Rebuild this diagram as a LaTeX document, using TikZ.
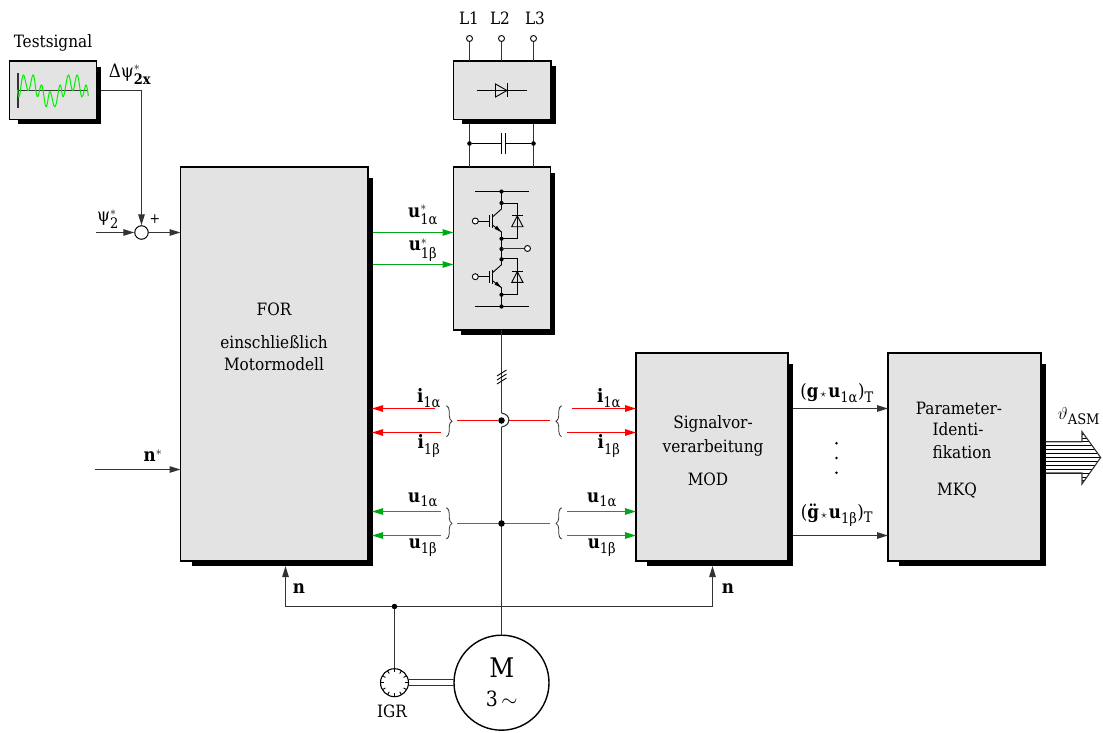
\documentclass[tikz,border=0pt]{standalone}
\usepackage{fontspec}
\usepackage{amsmath}
\setmainfont{DejaVu Serif Condensed}
\usetikzlibrary{arrows.meta,decorations.pathreplacing,calc}
\definecolor{boxgray}{HTML}{E3E3E3}
\definecolor{sigred}{HTML}{FF0000}
\definecolor{siggreen}{HTML}{00A818}
\definecolor{wavegreen}{HTML}{00F000}
\definecolor{wire}{HTML}{333333}
\newcommand\subs[1]{\text{\fontsize{14.5}{15}\selectfont #1}}
\newcommand\sgl[3]{$\textbf{#1}#2_{\subs{#3}}$}
\newcommand\blockb[7]{%
  \fill[black] (#2+#6,#3+#7) rectangle (#4+4.5,#5+5);
  \node[blockbox,minimum width={(#4-#2)*1pt},minimum height={(#5-#3)*1pt}] (#1) at ({(#2+#4)/2},{(#3+#5)/2}) {};
}
\tikzset{
  x=1pt,y=-1pt,
  blockbox/.style={draw=black,line width=1.2pt,fill=boxgray,inner sep=0,outer sep=0},
  wr/.style={draw=wire,line width=1.1pt},
  thin wr/.style={draw=black,line width=0.9pt},
  arr/.style={wr,-{Triangle[length=11pt,width=6.5pt]}},
  redarr/.style={draw=sigred,line width=1.1pt,-{Triangle[length=11pt,width=6.5pt]}},
  greenarr/.style={draw=siggreen,line width=1.1pt,-{Triangle[length=11pt,width=6.5pt]}},
  redl/.style={draw=sigred,line width=1.1pt},
  greenl/.style={draw=siggreen,line width=1.1pt},
  brc/.style={draw=wire,line width=0.8pt,decorate,decoration={brace,amplitude=5.5pt,aspect=0.5}},
  jdot/.style={circle,fill=black,inner sep=0,minimum size=#1},
  jdot/.default=4.6pt,
  term/.style={circle,draw=black,fill=white,line width=0.9pt,inner sep=0,minimum size=6pt},
  txt/.style={inner sep=0,font=\fontsize{17}{18}\selectfont},
  lab/.style={inner sep=0,font=\fontsize{18.5}{19}\selectfont},
}
\begin{document}
\begin{tikzpicture}
\useasboundingbox (0,0) rectangle (1103,733);
% blocks
\blockb{test}{9.5}{61}{96.5}{119.5}{8}{6}
\blockb{rect}{453.5}{61}{551}{119.5}{8}{5}
\blockb{inv}{453.5}{167}{550.5}{330}{7}{6}
\blockb{for}{180.5}{167}{368}{561}{11}{11}
\blockb{mod}{636}{353}{788}{561}{11}{11}
\blockb{mkq}{888}{353}{1041}{561}{11}{11}
% block texts
\node[txt] (ttest) at (53,43) {Testsignal};
\node[txt] (t1) at (274,309) {FOR};
\node[txt] (t2) at (274,342) {einschließlich};
\node[txt] (t3) at (274,364) {Motormodell};
\node[txt] (t4) at (713,424) {Signalvor-};
\node[txt] (t5) at (713,448) {verarbeitung};
\node[txt] (t6) at (708,479) {MOD};
\node[txt] (t7) at (959,408) {Parameter-};
\node[txt] (t8) at (958,429) {Identi-};
\node[txt] (t9) at (962,452) {fikation};
\node[txt] (t10) at (957,491) {MKQ};
\node[txt] (l1) at (469,18) {L1};
\node[txt] (l2) at (500,18) {L2};
\node[txt] (l3) at (535,18) {L3};
% test signal graphic
\draw[wr] (18,73) -- (18,108);
\draw[wr] (18,90.5) -- (88,90.5);
\draw[wavegreen,line width=1pt] plot[smooth,tension=0.65] coordinates {(17.5,90) (19.3,96.7) (23.3,75) (28.3,90.7) (33.3,75) (37.3,96.7) (41.7,85) (46,106.7) (50,91.7) (55,106.7) (60,85) (63.3,96.7) (68.3,75) (72.7,90.7) (77.3,75) (81.7,96.7) (86,85) (88.3,96)};
% summing point and reference inputs
\node[circle,draw=black,fill=white,line width=1pt,inner sep=0,minimum size=13.5pt] (sum) at (141.5,232.5) {};
\coordinate (testout) at (100.5,90.5);
\coordinate (corner) at (141.5,90.5);
\coordinate (psiin) at (96,232.5);
\coordinate (nin) at (95,469.5);
\draw[wr] (testout) -- (corner);
\draw[arr] (corner) -- (sum.north);
\draw[arr] (psiin) -- (sum.west);
\draw[arr] (sum.east) -- (for.west |- sum);
\draw[arr] (nin) -- (for.west |- nin);
\node[lab] (dpsi) at (130,74) {Δψ$^{*}_{\textbf{\fontsize{14.5}{15}\selectfont 2x}}$};
\node[lab] (psi) at (108,219) {ψ$^{*}_{\subs{2}}$};
\node[inner sep=0,font=\fontsize{14}{14}\selectfont] (plus) at (155,219.5) {+};
\node[lab] (nstar) at (153,456) {$\textbf{n}^{*}$};
% mains
\node[term] (c1) at (469.5,38.5) {};
\node[term] (c2) at (501.5,38.5) {};
\node[term] (c3) at (533.5,38.5) {};
\draw[wr] (c1) -- (c1 |- rect.north);
\draw[wr] (c2) -- (c2 |- rect.north);
\draw[wr] (c3) -- (c3 |- rect.north);
% rectifier symbol
\coordinate (da) at (477,90.5);
\coordinate (db) at (527,90.5);
\draw[thin wr] (da) -- (db);
\draw[thin wr] (495.5,84) -- (507,90.5) -- (495.5,97) -- cycle;
\draw[thin wr] (507.5,83.5) -- (507.5,97);
% DC link
\coordinate (dcl) at (469.5,124);
\coordinate (dcr) at (533.5,124);
\draw[wr] (dcl) -- (dcl |- inv.north);
\draw[wr] (dcr) -- (dcr |- inv.north);
\node[jdot] (dl) at (469.5,143.5) {};
\node[jdot] (dr) at (533.5,143.5) {};
\draw[thin wr] (dl) -- (501,143.5);
\draw[thin wr] (505.5,143.5) -- (dr);
\draw[thin wr] (501,133) -- (501,154);
\draw[thin wr] (505.5,133) -- (505.5,154);
% inverter symbol
\draw[thin wr] (475,191.5) -- (529,191.5);
\draw[thin wr] (475,306.5) -- (529,306.5);
\draw[thin wr] (501.5,191.5) -- (501.5,203);
\draw[thin wr] (501.5,238.7) -- (501.5,259.3);
\draw[thin wr] (501.5,294.7) -- (501.5,306.5);
\foreach \yy in {191.5,203,238.7,249,259.3,294.7,306.5} \node[jdot=4.2pt] at (501.5,\yy) {};
\node[term] (out) at (527.5,248.5) {};
\draw[wr] (501.5,248.5) -- (out);
\foreach \dy in {0,55.7}{
  \begin{scope}[yshift=-\dy pt]
  \draw[thin wr] (501.5,203) -- (501.5,209) -- (492.5,217);
  \draw[thin wr] (501.5,238.7) -- (501.5,232) -- (492.5,225);
  \fill[black] (501,231.8) -- (494.5,228.8) -- (497,225.8) -- cycle;
  \draw[thin wr] (492.5,214) -- (492.5,228);
  \draw[thin wr] (489.5,215) -- (489.5,227);
  \node[term] (g\dy) at (475.3,221) {};
  \draw[thin wr] (478,221) -- (490,221);
  \draw[thin wr] (501.5,203) -- (517.5,203) -- (517.5,238.7) -- (501.5,238.7);
  \draw[thin wr] (511.7,215.7) -- (523,215.7);
  \draw[thin wr] (517.3,215.9) -- (523,226.7) -- (511.7,226.7) -- cycle;
  \end{scope}
}
% control signals to inverter
\coordinate (ua) at (372.5,232.5);
\coordinate (ub) at (372.5,264.5);
\draw[greenarr] (ua) -- (inv.west |- ua);
\draw[greenarr] (ub) -- (inv.west |- ub);
\node[lab] (lua) at (423,215) {\sgl{u}{^{*}}{1α}};
\node[lab] (lub) at (423,250) {\sgl{u}{^{*}}{1β}};
% main vertical line and motor
\node[circle,draw=black,fill=white,line width=1.4pt,inner sep=0,minimum size=95pt] (motor) at (501.5,682.7) {};
\node[inner sep=0,font=\fontsize{27}{27}\selectfont] (mm) at (501.7,668) {M};
\node[inner sep=0,font=\fontsize{21}{21}\selectfont] (m3) at (501.7,699) {3\,$\sim$};
\coordinate (jt) at (501.5,413);
\coordinate (jb) at (501.5,427);
\draw[wr] (inv.south -| jt) -- (jt);
\draw[wr] (jb) -- (motor.north);
\draw[wr] (jt) .. controls (511.3,414.5) and (511.3,425.5) .. (jb);
\foreach \yy in {373,377,381} \draw[thin wr] (497,\yy+3) -- (506.5,\yy-3);
% current signals
\coordinate (rl) at (457,420.5);
\coordinate (rr1) at (509,420.5);
\coordinate (rr) at (550,420.5);
\coordinate (gl) at (457,523.5);
\coordinate (gr) at (550,523.5);
\node[jdot=6.5pt] (jr) at (501.5,420.5) {};
\draw[redl] (rl) -- (jr);
\draw[redl] (rr1) -- (rr);
\draw[greenl] (gl) -- (gr);
\node[jdot=6.5pt] (jg) at (501.5,523.5) {};
\coordinate (r1l) at (435,408.5);
\coordinate (r2l) at (441,432.5);
\coordinate (r1r) at (572,408.5);
\coordinate (r2r) at (567,432.5);
\coordinate (g1l) at (441,511.5);
\coordinate (g2l) at (441,535.5);
\coordinate (g1r) at (567,511.5);
\coordinate (g2r) at (567,535.5);
\coordinate (shf1) at (372,408.5);
\coordinate (shf2) at (372,432.5);
\coordinate (shf3) at (372,511.5);
\coordinate (shf4) at (372,535.5);
\draw[redarr] (r1l) -- (shf1);
\draw[redarr] (r2l) -- (shf2);
\draw[greenarr] (g1l) -- (shf3);
\draw[greenarr] (g2l) -- (shf4);
\draw[redarr] (r1r) -- (mod.west |- r1r);
\draw[redarr] (r2r) -- (mod.west |- r2r);
\draw[greenarr] (g1r) -- (mod.west |- g1r);
\draw[greenarr] (g2r) -- (mod.west |- g2r);
\draw[brc] (446.5,405.7) -- (446.5,436.7);
\draw[brc] (446.5,507.7) -- (446.5,539);
\draw[brc] (561.5,436.7) -- (561.5,405.7);
\draw[brc] (561.5,539) -- (561.5,507.7);
\node[lab] (a1) at (429,398) {\sgl{i}{}{1α}};
\node[lab] (a2) at (429,446) {\sgl{i}{}{1β}};
\node[lab] (a3) at (423,500) {\sgl{u}{}{1α}};
\node[lab] (a4) at (423,548) {\sgl{u}{}{1β}};
\node[lab] (a5) at (609,398) {\sgl{i}{}{1α}};
\node[lab] (a6) at (609,446) {\sgl{i}{}{1β}};
\node[lab] (a7) at (602,500) {\sgl{u}{}{1α}};
\node[lab] (a8) at (602,548) {\sgl{u}{}{1β}};
% speed feedback
\coordinate (nl) at (285.5,606.5);
\coordinate (nr) at (712.5,606.5);
\coordinate (fshadow) at (285.5,566);
\coordinate (mshadow) at (712.5,566);
\draw[wr] (nl) -- (nr);
\draw[arr] (nl) -- (fshadow);
\draw[arr] (nr) -- (mshadow);
\node[jdot=5.5pt] (dn) at (394.5,606.5) {};
\node[lab] (n1) at (299,589) {\textbf{n}};
\node[lab] (n2) at (728,589) {\textbf{n}};
\node[circle,draw=black,fill=white,line width=1.1pt,inner sep=0,minimum size=28pt] (igr) at (394.5,682.7) {};
\foreach \aa in {0,30,...,330} \draw[thin wr] ($(igr.center)+(\aa:14)$) -- ($(igr.center)+(\aa:10.5)$);
\draw[wr] (dn) -- (igr.north);
\coordinate (s1a) at (408.5,679.5);
\coordinate (s2a) at (408.5,685.5);
\draw[wr] (s1a) -- (s1a -| motor.west);
\draw[wr] (s2a) -- (s2a -| motor.west);
\node[txt] (igrt) at (392,711) {IGR};
% outputs of MOD
\coordinate (mo1) at (793,408.5);
\coordinate (mo2) at (793,535.5);
\draw[arr] (mo1) -- (mkq.west |- mo1);
\draw[arr] (mo2) -- (mkq.west |- mo2);
\node[lab] (o1) at (837,393) {(\textbf{g}$\scriptstyle\,\star\,$\textbf{u}$_{\subs{1α}}$)$_{\subs{T}}$};
\node[lab] (o2) at (837,515) {(\textbf{\"g}$\scriptstyle\,\star\,$\textbf{u}$_{\subs{1β}}$)$_{\subs{T}}$};
\node[jdot=2.8pt] (v1) at (836.5,443.3) {};
\node[jdot=2.8pt] (v2) at (836.5,458) {};
\node[jdot=2.8pt] (v3) at (836.5,472.7) {};
% result arrow
\foreach \k in {-4,...,4} \draw[thin wr] (1045.5,457.5+\k*3.9) -- ({1100.7-18.7*abs(\k*3.9)/26},457.5+\k*3.9);
\foreach \k in {-6,-5,5,6} \draw[thin wr] (1082,457.5+\k*3.9) -- ({1100.7-18.7*abs(\k*3.9)/26},457.5+\k*3.9);
\draw[wr,line join=miter] (1045.5,441.7) -- (1082,441.7) -- (1082,431.7) -- (1100.7,457.5) -- (1082,484) -- (1082,473) -- (1045.5,473);
\node[lab] (theta) at (1079,416) {$\vartheta_{\subs{ASM}}$};
\end{tikzpicture}
\end{document}
